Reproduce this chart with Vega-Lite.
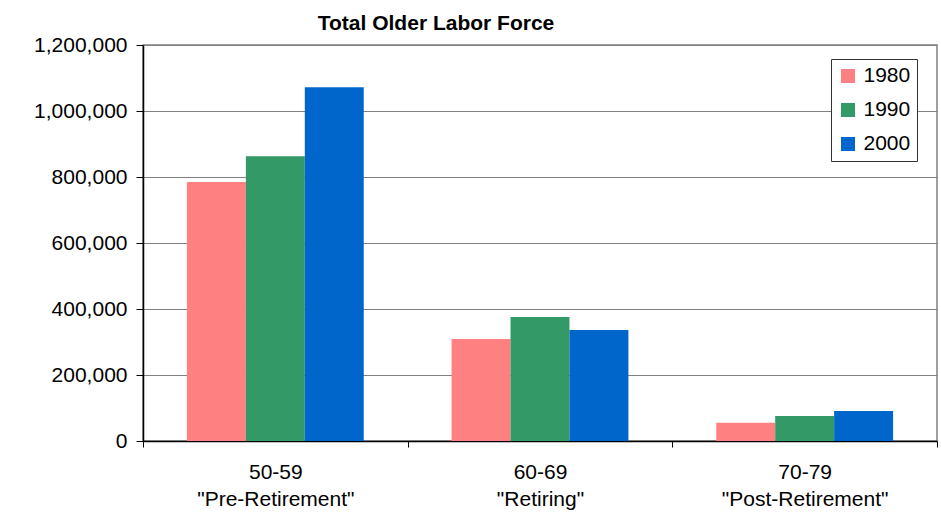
{
  "$schema": "https://vega.github.io/schema/vega-lite/v6.json",
  "autosize": {"type": "none"},
  "width": 794,
  "height": 396,
  "padding": {"left": 143, "top": 45, "right": 4, "bottom": 75},
  "background": "white",
  "title": {
    "text": "Total Older Labor Force",
    "font": "Liberation Sans",
    "fontSize": 21,
    "fontWeight": "bold",
    "color": "black",
    "anchor": "middle",
    "frame": "group",
    "baseline": "alphabetic",
    "offset": -17,
    "dx": -104
  },
  "data": {
    "values": [
      {"age": "50-59|\"Pre-Retirement\"", "year": "1980", "value": 785000},
      {"age": "50-59|\"Pre-Retirement\"", "year": "1990", "value": 863000},
      {"age": "50-59|\"Pre-Retirement\"", "year": "2000", "value": 1072000},
      {"age": "60-69|\"Retiring\"", "year": "1980", "value": 309000},
      {"age": "60-69|\"Retiring\"", "year": "1990", "value": 376000},
      {"age": "60-69|\"Retiring\"", "year": "2000", "value": 336000},
      {"age": "70-79|\"Post-Retirement\"", "year": "1980", "value": 55000},
      {"age": "70-79|\"Post-Retirement\"", "year": "1990", "value": 76000},
      {"age": "70-79|\"Post-Retirement\"", "year": "2000", "value": 91000}
    ]
  },
  "mark": {"type": "bar"},
  "encoding": {
    "x": {
      "field": "age",
      "type": "nominal",
      "sort": null,
      "scale": {"paddingInner": 0, "paddingOuter": 0},
      "axis": {
        "title": null,
        "labelAngle": 0,
        "labelExpr": "split(datum.label, '|')",
        "labelFont": "Liberation Sans",
        "labelFontSize": 21,
        "labelColor": "black",
        "labelLineHeight": 27.5,
        "labelPadding": 14,
        "labelBaseline": "top",
        "tickBand": "extent",
        "tickSize": 6,
        "tickColor": "black",
        "domainColor": "black",
        "domainWidth": 1.5,
        "grid": false
      }
    },
    "xOffset": {
      "field": "year",
      "type": "nominal",
      "scale": {"paddingInner": 0, "paddingOuter": 0.745}
    },
    "y": {
      "field": "value",
      "type": "quantitative",
      "scale": {"domain": [0, 1200000], "nice": false},
      "axis": {
        "title": null,
        "values": [0, 200000, 400000, 600000, 800000, 1000000, 1200000],
        "format": ",d",
        "labelFont": "Liberation Sans",
        "labelFontSize": 21,
        "labelColor": "black",
        "labelPadding": 9,
        "tickSize": 7,
        "tickColor": "black",
        "domainColor": "black",
        "domainWidth": 1.5,
        "grid": true,
        "gridColor": "#808080",
        "gridWidth": 1.2
      }
    },
    "color": {
      "field": "year",
      "type": "nominal",
      "scale": {"domain": ["1980", "1990", "2000"], "range": ["#FF8080", "#339966", "#0066CC"]},
      "legend": {
        "title": null,
        "orient": "none",
        "legendX": 688,
        "legendY": 14,
        "symbolType": "square",
        "symbolSize": 196,
        "symbolStrokeWidth": 0,
        "symbolOpacity": 1,
        "labelFont": "Liberation Sans",
        "labelFontSize": 21,
        "labelColor": "black",
        "labelOffset": 5,
        "rowPadding": 12,
        "padding": 6.5,
        "strokeColor": "#333333",
        "fillColor": "white"
      }
    }
  },
  "config": {
    "view": {"stroke": "#808080", "strokeWidth": 1.5}
  }
}
